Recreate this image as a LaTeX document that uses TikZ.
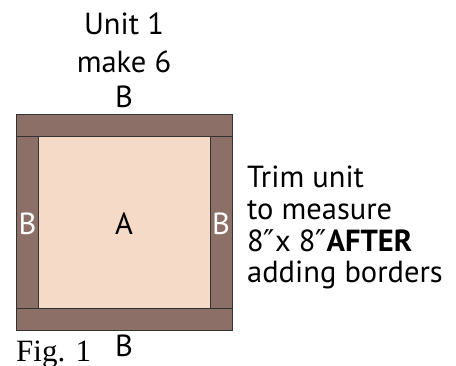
\documentclass[tikz,border=0pt]{standalone}
\usepackage{fontspec}
\setmainfont{PT Sans}
\newfontfamily\figfont{Liberation Serif}
\newfontfamily\symfont{DejaVu Sans}
\newcommand{\dprime}{{\symfont\fontsize{30}{34}\selectfont ″}}
\definecolor{bord}{RGB}{140,112,104}
\definecolor{fill}{RGB}{245,218,200}
\begin{document}
\begin{tikzpicture}[x=1pt,y=-1pt,
  piece/.style={draw=black!80,line width=0.9pt},
  lbl/.style={inner sep=0pt,anchor=base,font=\fontsize{30.5}{34}\selectfont}]
\useasboundingbox (0,0) rectangle (456,366);
% pieces
\path[piece,fill=fill] (38.5,136) rectangle (210,308);
\path[piece,fill=bord] (16.5,114) rectangle (232,136);
\path[piece,fill=bord] (16.5,308) rectangle (232,330);
\path[piece,fill=bord] (16.5,136) rectangle (38.5,308);
\path[piece,fill=bord] (210,136) rectangle (232,308);
% labels
\node[lbl] (unit) at (124,35) {Unit 1};
\node[lbl] (make) at (124,73) {make 6};
\node[lbl] (btop) at (124,108) {B};
\node[lbl] (a) at (124,235) {A};
\node[lbl,text=white] (bl) at (27.5,235) {B};
\node[lbl,text=white] (br) at (221,235) {B};
\node[lbl] (bbot) at (124,357) {B};
\node[lbl,anchor=base west] (fig) at (16,362) {\figfont\fontsize{31}{34}\selectfont Fig. 1};
\node[lbl,anchor=base west] (trim) at (247,188) {Trim unit};
\node[lbl,anchor=base west] (meas) at (247,220) {to measure};
\node[lbl,anchor=base west] (size) at (247,252) {8\dprime x 8\dprime\textbf{AFTER}};
\node[lbl,anchor=base west] (add) at (247,283) {adding borders};
\end{tikzpicture}
\end{document}
